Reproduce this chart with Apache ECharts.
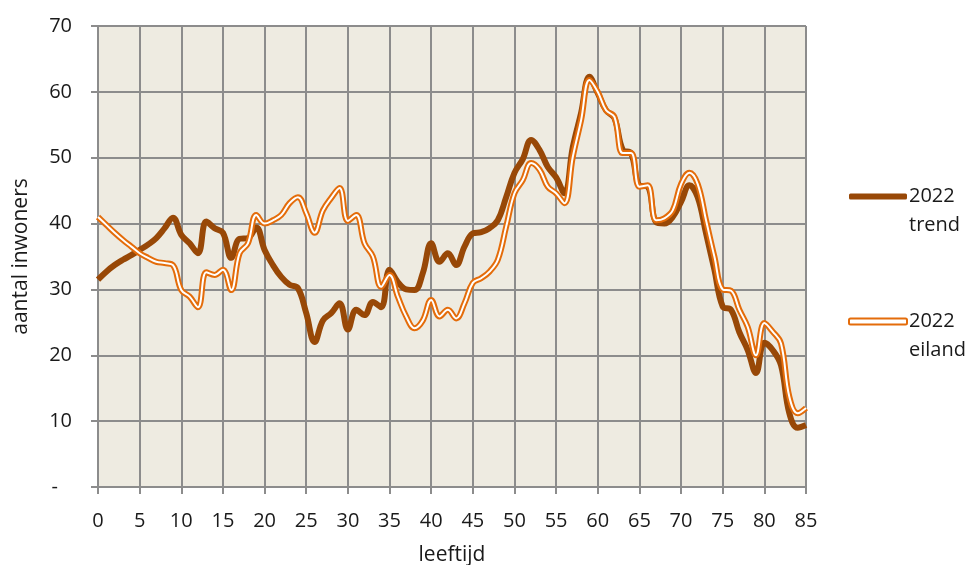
<!DOCTYPE html>
<html>
<head>
<meta charset="utf-8">
<script src="https://cdn.jsdelivr.net/npm/echarts@6/dist/echarts.min.js"></script>
<style>
  html, body { margin: 0; padding: 0; background: #fff; }
  #chart { width: 971px; height: 565px; }
</style>
</head>
<body>
<div id="chart"></div>
<script>
// leeftijden 0..85
var ages = [
  0, 1, 2, 3, 4, 5, 6, 7, 8, 9, 10, 11, 12, 13, 14, 15, 16, 17, 18, 19,
  20, 21, 22, 23, 24, 25, 26, 27, 28, 29, 30, 31, 32, 33, 34, 35, 36, 37, 38, 39,
  40, 41, 42, 43, 44, 45, 46, 47, 48, 49, 50, 51, 52, 53, 54, 55, 56, 57, 58, 59,
  60, 61, 62, 63, 64, 65, 66, 67, 68, 69, 70, 71, 72, 73, 74, 75, 76, 77, 78, 79,
  80, 81, 82, 83, 84, 85
];

// 2022 trend
var trend = [
  31.5, 32.7, 33.7, 34.5, 35.2, 36, 36.8, 37.8, 39.3, 40.9,
  38.3, 37, 35.5, 40.3, 39.3, 38.6, 34.8, 37.7, 37.8, 39.4,
  36, 33.7, 31.9, 30.7, 30.2, 26.4, 22, 25.3, 26.4, 27.9,
  23.9, 26.9, 26.1, 28.1, 27.3, 33, 31.1, 30, 29.9, 32.5,
  37, 34.2, 35.5, 33.7, 36.5, 38.5, 38.7, 39.3, 40.5, 44,
  47.7, 49.8, 52.7, 51.2, 48.6, 47, 44.6, 51.6, 56.8, 62.3,
  59.8, 57.2, 56, 51.2, 50.7, 45.8, 45.6, 40.2, 40, 41,
  43.3, 45.8, 44, 38.5, 33, 27.4, 26.9, 23.5, 20.8, 17.3,
  21.9, 20.8, 18.5, 11.2, 9, 9.4
];

// 2022 eiland
var eiland = [
  41, 39.8, 38.6, 37.5, 36.5, 35.5, 34.8, 34.2, 34, 33.7,
  29.9, 28.9, 27.3, 32.6, 32.2, 33, 29.9, 35.5, 37, 41.3,
  40, 40.5, 41.3, 43.1, 44, 41.6, 38.6, 42, 43.9, 45.4,
  40.4, 41.3, 37, 35, 30.4, 32.2, 28.9, 25.9, 24.1, 25.3,
  28.4, 25.9, 26.9, 25.6, 27.9, 31, 31.7, 32.7, 34.5, 39.5,
  44.6, 46.6, 49.2, 48.2, 45.6, 44.6, 43.1, 50.1, 55.7, 61.8,
  60, 57.2, 56.2, 50.7, 50.7, 45.6, 45.8, 40.5, 40.8, 42,
  46, 47.7, 46, 40.5, 35, 30, 29.8, 26.9, 24.3, 20,
  24.9, 23.6, 21.8, 13.7, 11.2, 12
];

var font = '"Open Sans", Lato, sans-serif';
var brown = '#984807';
var orange = '#E46C0A';
var gridGray = '#8C8C8C';
var ink = '#1a1a1a';

var chart = echarts.init(document.getElementById('chart'));

chart.setOption({
  animation: false,
  textStyle: { fontFamily: font, color: ink },
  grid: {
    left: 98, right: 165, top: 26, bottom: 78,
    outerBoundsMode: 'none',
    containLabel: false,
    show: true, backgroundColor: '#EEEBE1', borderWidth: 0
  },
  legend: {
    orient: 'vertical',
    left: 843,
    top: 148,
    itemGap: 38,
    itemWidth: 58,
    itemHeight: 6,
    textStyle: { fontSize: 20, lineHeight: 29, color: ink, fontFamily: font, padding: [0, 0, 0, -3] },
    formatter: function (name) { return '\n' + name; },
    data: [
      { name: '2022\ntrend', icon: 'roundRect', itemStyle: { color: brown } },
      { name: '2022\neiland', icon: 'roundRect',
        itemStyle: { color: '#fff', borderColor: orange, borderWidth: 2 } }
    ]
  },
  xAxis: {
    type: 'category',
    data: ages,
    boundaryGap: false,
    name: 'leeftijd',
    nameLocation: 'middle',
    nameGap: 58,
    nameTextStyle: { fontSize: 21, color: ink },
    axisLine: { lineStyle: { color: gridGray, width: 2 } },
    axisTick: { interval: 4, length: 7, lineStyle: { color: gridGray, width: 2 } },
    axisLabel: { interval: 4, fontSize: 20, color: ink, margin: 24 },
    splitLine: { show: true, interval: 4, lineStyle: { color: gridGray, width: 2 } }
  },
  yAxis: {
    type: 'value',
    min: 0,
    max: 70,
    interval: 10,
    name: 'aantal inwoners',
    nameLocation: 'middle',
    nameGap: 66,
    nameTextStyle: { fontSize: 21, color: ink },
    axisLine: { show: true, lineStyle: { color: gridGray, width: 2 } },
    axisTick: { show: true, length: 7, lineStyle: { color: gridGray, width: 2 } },
    axisLabel: {
      fontSize: 20, color: ink, margin: 26,
      formatter: function (v) { return v === 0 ? '{d|-}' : String(v); },
      rich: { d: { fontSize: 20, color: ink, padding: [0, 14, 0, 0] } }
    },
    splitLine: { show: true, lineStyle: { color: gridGray, width: 2 } }
  },
  series: [
    {
      name: '2022\ntrend',
      type: 'line',
      data: trend,
      smooth: 0.4,
      symbol: 'none',
      lineStyle: { color: brown, width: 6 },
      itemStyle: { color: brown }
    },
    {
      name: '2022\neiland',
      type: 'line',
      data: eiland,
      smooth: 0.4,
      symbol: 'none',
      lineStyle: { color: orange, width: 6 },
      itemStyle: { color: orange }
    },
    {
      name: 'eiland-binnen',
      type: 'line',
      data: eiland,
      smooth: 0.4,
      symbol: 'none',
      silent: true,
      lineStyle: { color: '#ffffff', width: 2 },
      itemStyle: { color: '#ffffff' }
    }
  ]
});
</script>
</body>
</html>
